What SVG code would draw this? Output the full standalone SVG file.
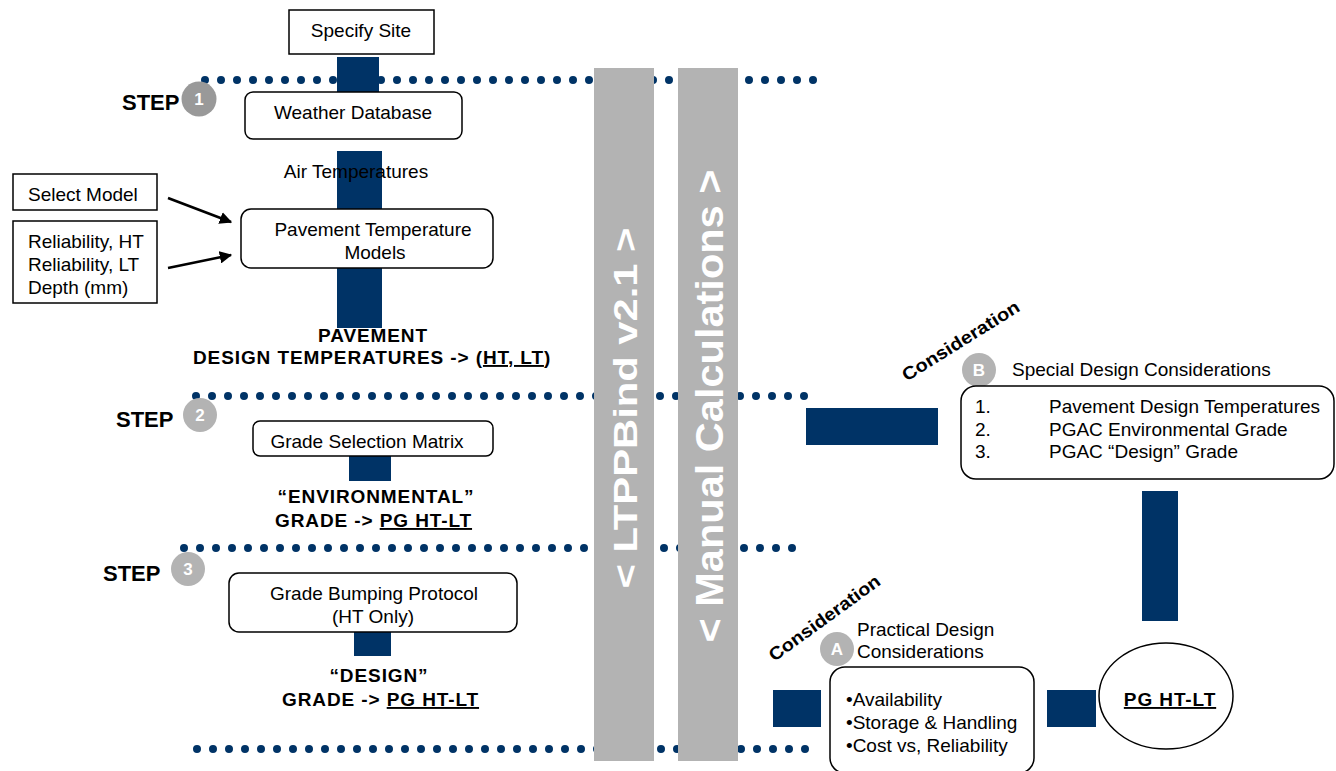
<svg xmlns="http://www.w3.org/2000/svg" width="1336" height="771" viewBox="0 0 1336 771">
<style>
  text { font-family: "Liberation Sans", Arial, sans-serif; fill: #000; }
  .t { font-size: 19px; }
  .b { font-size: 19px; font-weight: bold; letter-spacing: 0.9px; }
  .step { font-size: 22px; font-weight: bold; }
  .num { font-size: 17px; font-weight: bold; fill: #fff; text-anchor: middle; }
  .bar { fill: #b3b3b3; }
  .bartext { font-weight: bold; fill: #fff; text-anchor: middle; }
  .dots { stroke: #003366; stroke-width: 8; stroke-linecap: round; stroke-dasharray: 0 16; fill: none; }
  .box { fill: #fff; stroke: #000; stroke-width: 1.5; }
  .blk { fill: #003366; }
  .u { text-decoration: underline; }
  .mid { text-anchor: middle; }
  .cons { font-size: 18px; font-weight: bold; text-anchor: middle; }
</style>
<defs>
  <marker id="ah" viewBox="0 0 10 10" refX="9" refY="5" markerWidth="5" markerHeight="5" orient="auto">
    <path d="M0,0 L10,5 L0,10 z" fill="#000"/>
  </marker>
</defs>

<g id="separators">
  <line class="dots" x1="205" y1="80" x2="814" y2="80"/>
  <line class="dots" x1="196" y1="396" x2="805" y2="396"/>
  <line class="dots" x1="184" y1="548" x2="793" y2="548"/>
  <line class="dots" x1="197" y1="749" x2="806" y2="749"/>
</g>

<g id="connectors">
  <rect class="blk" x="337" y="57" width="42" height="37"/>
  <rect class="blk" x="337" y="151" width="45" height="177"/>
  <rect class="blk" x="349" y="456" width="42" height="25"/>
  <rect class="blk" x="354" y="632" width="37" height="24"/>
  <rect class="blk" x="806" y="408" width="132" height="37"/>
  <rect class="blk" x="1142" y="491" width="36" height="130"/>
  <rect class="blk" x="773" y="690" width="48" height="37"/>
  <rect class="blk" x="1047" y="690" width="49" height="37"/>
  <line x1="168" y1="198" x2="231" y2="222" stroke="#000" stroke-width="2.5" marker-end="url(#ah)"/>
  <line x1="168" y1="268" x2="231" y2="255" stroke="#000" stroke-width="2.5" marker-end="url(#ah)"/>
</g>

<g id="bar-ltppbind">
  <rect class="bar" x="594" y="68" width="60" height="693"/>
  <text class="bartext" font-size="34" transform="translate(637,408) rotate(-90)" textLength="361" lengthAdjust="spacingAndGlyphs">&lt; LTPPBind v2.1 &gt;</text>
</g>
<g id="bar-manual">
  <rect class="bar" x="678" y="68" width="60" height="693"/>
  <text class="bartext" font-size="38" transform="translate(723,406) rotate(-90)" textLength="473" lengthAdjust="spacingAndGlyphs">&lt; Manual Calculations &gt;</text>
</g>

<g id="specify-site">
  <rect class="box" x="289" y="10" width="145" height="44"/>
  <text class="t mid" x="361" y="37">Specify Site</text>
</g>

<g id="step1">
  <text class="step" x="122" y="110">STEP</text>
  <circle cx="199" cy="99" r="17.5" fill="#999999"/>
  <text class="num" x="199" y="105">1</text>
</g>

<g id="weather-db">
  <rect class="box" x="245" y="92" width="217" height="47" rx="8"/>
  <text class="t mid" x="353" y="119">Weather Database</text>
</g>

<g id="air-temps">
  <text class="t mid" x="356" y="178">Air Temperatures</text>
</g>

<g id="select-model">
  <rect class="box" x="13" y="174" width="144" height="36"/>
  <text class="t" x="28" y="201">Select Model</text>
</g>

<g id="reliability">
  <rect class="box" x="13" y="221" width="144" height="82"/>
  <text class="t" x="28" y="248">Reliability, HT</text>
  <text class="t" x="28" y="271">Reliability, LT</text>
  <text class="t" x="28" y="294">Depth (mm)</text>
</g>

<g id="pavement-models">
  <rect class="box" x="241" y="209" width="252" height="59" rx="10"/>
  <text class="t mid" x="373" y="236">Pavement Temperature</text>
  <text class="t mid" x="375" y="259">Models</text>
</g>

<g id="pavement-design-temps">
  <text class="b mid" x="373" y="342">PAVEMENT</text>
  <text class="b" x="193" y="364">DESIGN TEMPERATURES -&gt; (<tspan class="u">HT, LT</tspan>)</text>
</g>

<g id="step2">
  <text class="step" x="116" y="427">STEP</text>
  <circle cx="200" cy="415" r="17" fill="#b3b3b3"/>
  <text class="num" x="200" y="421">2</text>
</g>

<g id="grade-matrix">
  <rect class="box" x="253" y="421" width="240" height="35" rx="7"/>
  <text class="t mid" x="367" y="448">Grade Selection Matrix</text>
</g>

<g id="env-grade">
  <text class="b mid" x="376" y="503">“ENVIRONMENTAL”</text>
  <text class="b" x="275" y="527">GRADE -&gt; <tspan class="u">PG HT-LT</tspan></text>
</g>

<g id="step3">
  <text class="step" x="103" y="581">STEP</text>
  <circle cx="188" cy="569" r="17" fill="#b3b3b3"/>
  <text class="num" x="188" y="575">3</text>
</g>

<g id="grade-bumping">
  <rect class="box" x="229" y="573" width="288" height="59" rx="10"/>
  <text class="t mid" x="374" y="600">Grade Bumping Protocol</text>
  <text class="t mid" x="373" y="623">(HT Only)</text>
</g>

<g id="design-grade">
  <text class="b mid" x="379" y="682">“DESIGN”</text>
  <text class="b" x="282" y="706">GRADE -&gt; <tspan class="u">PG HT-LT</tspan></text>
</g>

<g id="consideration-b">
  <text class="cons" transform="translate(964,346) rotate(-32)" textLength="135" lengthAdjust="spacingAndGlyphs">Consideration</text>
  <circle cx="979" cy="370" r="17" fill="#b3b3b3"/>
  <text class="num" x="979" y="376">B</text>
  <text class="t" x="1012" y="376">Special Design Considerations</text>
</g>

<g id="special-considerations">
  <rect class="box" x="961" y="386" width="373" height="93" rx="15"/>
  <text class="t" x="975" y="413">1.</text>
  <text class="t" x="1049" y="413">Pavement Design Temperatures</text>
  <text class="t" x="975" y="436">2.</text>
  <text class="t" x="1049" y="436">PGAC Environmental Grade</text>
  <text class="t" x="975" y="458">3.</text>
  <text class="t" x="1049" y="458">PGAC “Design” Grade</text>
</g>

<g id="consideration-a">
  <text class="cons" transform="translate(828,623) rotate(-36)" textLength="133" lengthAdjust="spacingAndGlyphs">Consideration</text>
  <circle cx="837" cy="649" r="17" fill="#b3b3b3"/>
  <text class="num" x="837" y="655">A</text>
  <text class="t" x="857" y="636">Practical Design</text>
  <text class="t" x="857" y="658">Considerations</text>
</g>

<g id="practical-considerations">
  <rect class="box" x="830" y="667" width="204" height="106" rx="15"/>
  <text class="t" x="846" y="706">•Availability</text>
  <text class="t" x="846" y="729">•Storage &amp; Handling</text>
  <text class="t" x="846" y="752">•Cost vs, Reliability</text>
</g>

<g id="pg-ht-lt">
  <ellipse cx="1166" cy="696" rx="67" ry="53" fill="#fff" stroke="#000" stroke-width="1.5"/>
  <text class="b mid u" x="1170" y="706">PG HT-LT</text>
</g>
</svg>
